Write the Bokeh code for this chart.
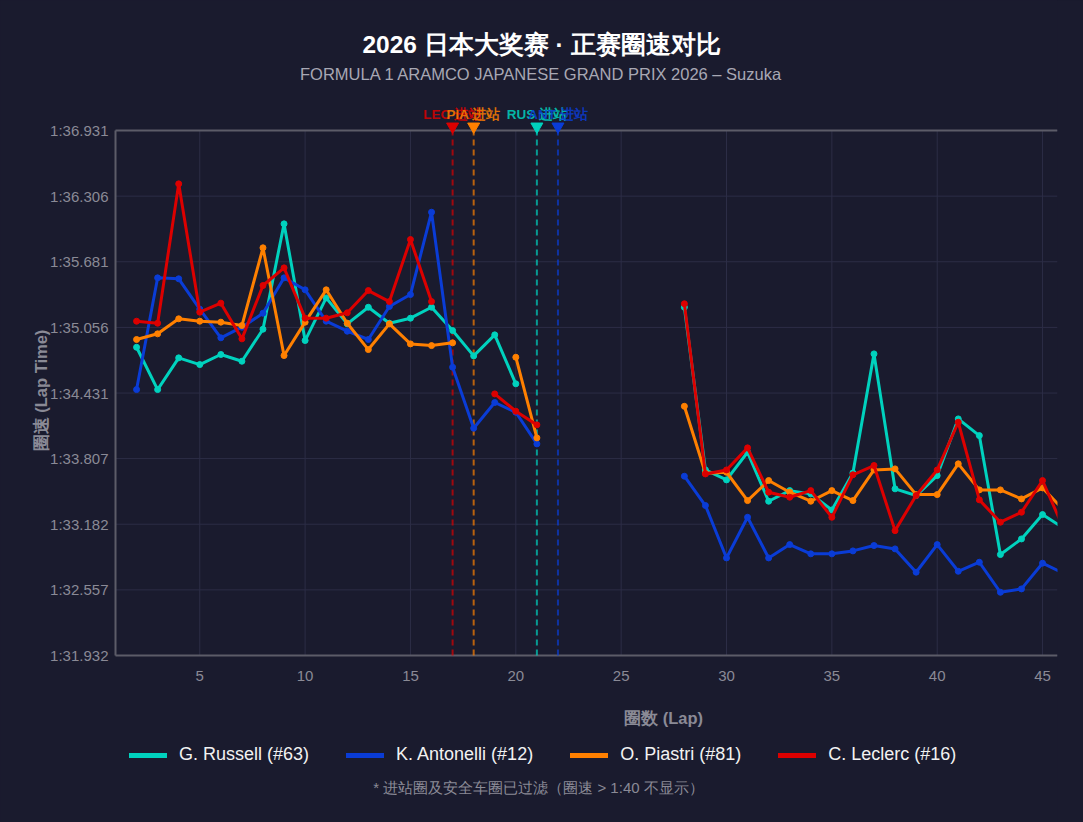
import numpy as np
from bokeh.plotting import figure
from bokeh.models import Range1d, Label, Legend, LegendItem
from bokeh.core.properties import value
from bokeh.embed import file_html
from bokeh.resources import INLINE

# ---------------- data ----------------
laps = list(range(2, 47))
N = None
russell = [94.867, 94.464, 94.766, 94.702, 94.798, 94.734, 95.039, 96.042, 94.931, 95.337,
           95.090, 95.248, 95.096, 95.144, 95.248, 95.026, 94.785, 94.985, 94.519, N,
           N, N, N, N, N, N,
           95.248, 93.699, 93.604, 93.867, 93.401, 93.502, 93.471, 93.318, 93.670, 94.804,
           93.519, 93.455, 93.645, 94.185, 94.026, 92.893, 93.042, 93.274, 93.144]
antonelli = [94.464, 95.528, 95.519, 95.230, 94.957, 95.058, 95.191, 95.528, 95.414, 95.115,
             95.020, 94.941, 95.255, 95.369, 96.153, 94.677, 94.096, 94.341, 94.248, 93.947,
             N, N, N, N, N, N,
             93.639, 93.360, 92.861, 93.248, 92.861, 92.988, 92.900, 92.900, 92.928, 92.979,
             92.947, 92.725, 92.988, 92.734, 92.820, 92.534, 92.566, 92.811, 92.715]
piastri = [94.941, 94.995, 95.138, 95.115, 95.106, 95.074, 95.814, 94.788, 95.106, 95.414,
           95.096, 94.845, 95.090, 94.899, 94.883, 94.909, N, N, 94.772, 94.004,
           N, N, N, N, N, N,
           94.305, 93.667, 93.677, 93.407, 93.598, 93.487, 93.401, 93.502, 93.407, 93.699,
           93.709, 93.464, 93.464, 93.757, 93.509, 93.509, 93.423, 93.528, 93.318]
leclerc = [95.115, 95.096, 96.423, 95.201, 95.287, 94.947, 95.455, 95.623, 95.144, 95.144,
           95.195, 95.407, 95.302, 95.893, 95.302, N, N, 94.423, 94.258, 94.128,
           N, N, N, N, N, N,
           95.281, 93.661, 93.699, 93.909, 93.487, 93.439, 93.502, 93.248, 93.653, 93.741,
           93.121, 93.455, 93.699, 94.153, 93.414, 93.201, 93.296, 93.598, 93.140]

driver_names = ["G. Russell (#63)", "K. Antonelli (#12)", "O. Piastri (#81)", "C. Leclerc (#16)"]
driver_colors = ["#00d2be", "#0a3cd6", "#ff8000", "#dc0000"]
series = [russell, antonelli, piastri, leclerc]

pit_laps = [17, 18, 21, 22]
pit_labels = ["LEC 进站", "PIA 进站", "RUS 进站", "ANT 进站"]
pit_colors = ["#dc0000", "#ff8000", "#00d2be", "#0a3cd6"]

y_tick_labels = ["1:31.932", "1:32.557", "1:33.182", "1:33.807", "1:34.431",
                 "1:35.056", "1:35.681", "1:36.306", "1:36.931"]
x_ticks = [5, 10, 15, 20, 25, 30, 35, 40, 45]
x_tick_labels = ["5", "10", "15", "20", "25", "30", "35", "40", "45"]
x_view = (1.0, 45.71)   # visible lap window

title_text = "2026 日本大奖赛 · 正赛圈速对比"
subtitle_text = "FORMULA 1 ARAMCO JAPANESE GRAND PRIX 2026 – Suzuka"
x_label = "圈数 (Lap)"
y_label = "圈速 (Lap Time)"
footnote = "* 进站圈及安全车圈已过滤（圈速 > 1:40 不显示）"

# ---------------- styling / geometry ----------------
W, H = 1083, 822
PL, PR, PT, PB = 115, 1057, 130, 655      # plot area in page pixels
BG = "#1a1b2e"
GRID = "#2c2d46"
AXIS = "#5c5c68"
MUTED = "#8a8a96"
FONT = "Liberation Sans"

def to_sec(s):
    m, r = s.split(":")
    return round(int(m) * 60 + float(r), 3)

y_vals = [to_sec(s) for s in y_tick_labels]
y_min, y_max = y_vals[0], y_vals[-1]
x_lo, x_hi = x_view
kx = (PR - PL) / (x_hi - x_lo)
ky = (PB - PT) / (y_max - y_min)

def px2x(px):
    return x_lo + (px - PL) / kx

def py2y(py):
    return y_max + (PT - py) / ky

p = figure(width=W, height=H, output_backend="svg", toolbar_location=None,
           x_range=Range1d(px2x(0), x_hi), y_range=Range1d(py2y(H), py2y(0)),
           min_border=0, min_border_left=0, min_border_right=W - PR, min_border_top=0,
           min_border_bottom=0, background_fill_color=BG, border_fill_color=BG,
           outline_line_color=None)
p.xaxis.visible = False
p.yaxis.visible = False
p.xgrid.visible = False
p.ygrid.visible = False

n_y, n_x = len(y_vals), len(x_ticks)
# grid lines
p.segment(x0=[x_lo] * n_y, y0=y_vals, x1=[x_hi] * n_y, y1=y_vals,
          line_color=GRID, line_width=1)
p.segment(x0=x_ticks, y0=[y_min] * n_x, x1=x_ticks, y1=[y_max] * n_x,
          line_color=GRID, line_width=1)
# axis / border lines (left, bottom, top)
p.segment(x0=[x_lo, x_lo, x_lo], y0=[y_min, y_min, y_max],
          x1=[x_lo, x_hi, x_hi], y1=[y_max, y_min, y_max],
          line_color=AXIS, line_width=2)

# tick labels
p.text(x=[px2x(PL - 7)] * n_y, y=y_vals, text=y_tick_labels, text_color=MUTED,
       text_align="right", text_baseline="middle", text_font=value(FONT),
       text_font_size="15px")
p.text(x=x_ticks, y=[py2y(PB + 20)] * n_x, text=x_tick_labels, text_color=MUTED,
       text_align="center", text_baseline="middle", text_font=value(FONT),
       text_font_size="15px")

# pit markers
p.segment(x0=pit_laps, y0=[y_min] * 4, x1=pit_laps, y1=[y_max] * 4,
          line_color=pit_colors, line_width=2, line_dash="6 4", line_alpha=0.7)
p.scatter(x=pit_laps, y=[py2y(PT - 4)] * 4, marker="inverted_triangle",
          size=12, fill_color=pit_colors, line_color=pit_colors)
p.text(x=pit_laps, y=[py2y(PT - 16)] * 4, text=pit_labels, text_color=pit_colors,
       text_alpha=0.85, text_align="center", text_baseline="middle",
       text_font=value(FONT), text_font_size="13.5px", text_font_style="bold")

# series
for vals, col in zip(series, driver_colors):
    y = np.array([np.nan if v is None else v for v in vals], dtype=float)
    x = np.array(laps, dtype=float)
    p.line(x, y, line_color=col, line_width=3, line_join="round")
    m = ~np.isnan(y)
    p.scatter(x[m], y[m], size=6, fill_color=col, line_color=col)

# legend (swatches through line renderers that draw nothing in the plot)
items = []
for name, col in zip(driver_names, driver_colors):
    r = p.line(x=[np.nan], y=[np.nan], line_color=col, line_width=5, line_cap="round")
    items.append(LegendItem(label=name, renderers=[r]))
legend = Legend(items=items, orientation="horizontal", location=(129, H - 765),
                glyph_width=38, glyph_height=18, label_standoff=12, spacing=37,
                padding=0, margin=0, label_text_font=FONT,
                label_text_font_size="18px", label_text_color="#f2f2f2",
                background_fill_alpha=0, border_line_alpha=0, label_height=18)
p.add_layout(legend)

# free texts (screen units: x from left, y from bottom of the canvas)
def lab(px, py, text, size, color, bold=False, angle=0.0):
    p.add_layout(Label(x=px, y=H - py, x_units="screen", y_units="screen", text=text,
                       text_align="center", text_baseline="middle", angle=angle,
                       text_font=FONT, text_font_size=size, text_color=color,
                       text_font_style="bold" if bold else "normal"))

lab(541, 44, title_text, "24.5px", "#ffffff", bold=True)
lab(541, 73.5, subtitle_text, "16.5px", "#a8a8b4")
lab(663, 717, x_label, "16.5px", MUTED, bold=True)
lab(40.5, 390, y_label, "16.5px", MUTED, bold=True, angle=np.pi / 2)
lab(538, 787, footnote, "15px", MUTED)

html = file_html(p, INLINE)
html = html.replace("<head>", "<head><style>html,body{background:%s;}</style>" % BG, 1)
open("out.html", "w").write(html)
